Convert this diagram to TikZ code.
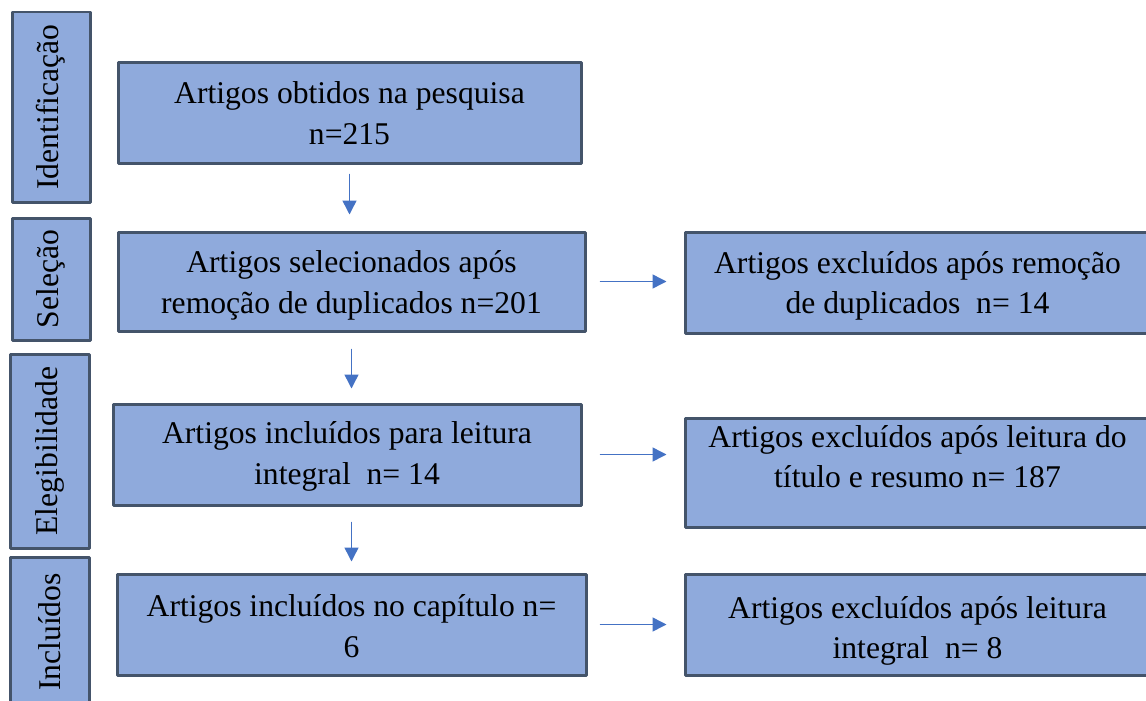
\documentclass[tikz,border=0pt]{standalone}
\usepackage{fontspec}
\setmainfont{Liberation Serif}
\usetikzlibrary{arrows.meta}
\definecolor{azulcx}{HTML}{8FAADC}
\definecolor{cinzab}{HTML}{44546A}
\definecolor{azulseta}{HTML}{4472C4}

\begin{document}
\begin{tikzpicture}[>={Triangle[length=.28cm,width=.28cm]},
  caixa/.style={draw=cinzab,fill=azulcx,line width=.06cm,line join=round,align=center,inner sep=0pt,
    font=\fontsize{18}{23}\selectfont},
  fase/.style={caixa,rotate=90},
  linha/.style={text depth=0pt,text height=#1},
  seta/.style={->,draw=azulseta,fill=azulseta,line width=.03cm}]
\useasboundingbox (0,0) rectangle (22.92,-14);
% fases
\node[fase,minimum width=3.8cm,minimum height=1.56cm](F1) at (1.02,-2.14){Identificação};
\node[fase,minimum width=2.44cm,minimum height=1.56cm](F2) at (1.02,-5.58){Seleção};
\node[fase,minimum width=3.88cm,minimum height=1.58cm](F3) at (0.99,-9.02){Elegibilidade};
\node[fase,minimum width=3.0cm,minimum height=1.58cm](F4) at (0.99,-12.64){Incluídos};
% coluna principal
\node[caixa,linha=36.3pt,minimum width=9.26cm,minimum height=2.02cm](P1) at (6.99,-2.25){Artigos obtidos na pesquisa\\ n=215};
\node[caixa,linha=36.3pt,minimum width=9.34cm,minimum height=1.98cm](P2) at (7.03,-5.63){Artigos selecionados após\\ remoção de duplicados n=201};
\node[caixa,linha=34pt,minimum width=9.36cm,minimum height=2.02cm](P3) at (6.94,-9.09){Artigos incluídos para leitura\\ integral~ n= 14};
\node[caixa,linha=37.4pt,minimum width=9.38cm,minimum height=2.02cm](P4) at (7.03,-12.49){Artigos incluídos no capítulo n=\\ 6};
% excluidos
\node[caixa,linha=35.2pt,minimum width=9.3cm,minimum height=2.02cm](X1) at (18.35,-5.65){Artigos excluídos após remoção\\ de duplicados~ n= 14};
\node[caixa,linha=17pt,minimum width=9.3cm,minimum height=2.18cm](X2) at (18.35,-9.45){Artigos excluídos após leitura do\\ título e resumo n= 187};
\node[caixa,linha=38.6pt,minimum width=9.3cm,minimum height=2.02cm](X3) at (18.35,-12.49){Artigos excluídos após leitura\\ integral~ n= 8};

\draw[seta,shorten <=.18cm,shorten >=.32cm](P1.south)--(P1.south|-P2.north);
\draw[seta,shorten <=.32cm,shorten >=.28cm](P2.south)--(P2.south|-P3.north);
\draw[seta,shorten <=.3cm,shorten >=.22cm](P3.south-|P4.north)--(P4.north);

\draw[seta,shorten <=.26cm,shorten >=.34cm](P2.east)--(P2.east-|X1.west);
\draw[seta,shorten <=.34cm,shorten >=.34cm](P3.east)--(P3.east-|X2.west);
\draw[seta,shorten <=.24cm,shorten >=.34cm](P4.east)--(P4.east-|X3.west);
\end{tikzpicture}
\end{document}
